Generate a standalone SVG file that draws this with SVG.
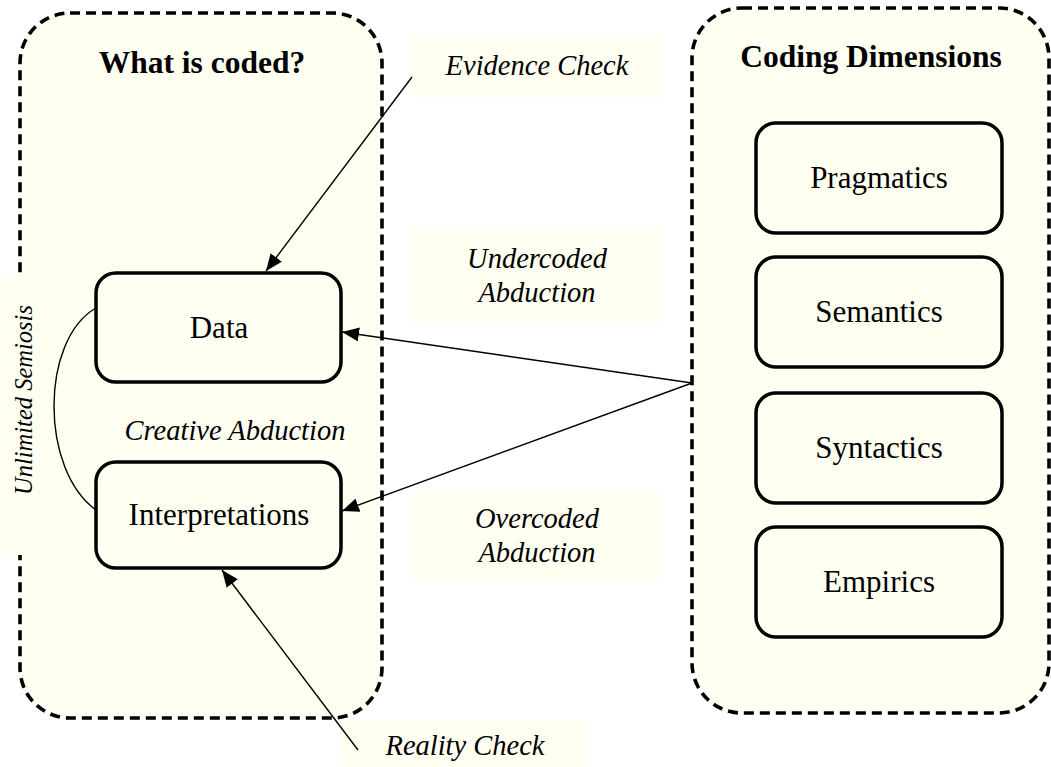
<svg xmlns="http://www.w3.org/2000/svg" width="1051" height="767" viewBox="0 0 1051 767">
<defs>
<style>
.cont{fill:#FFFFF2;stroke:#000;stroke-width:3.6;stroke-dasharray:10 6}
.node{fill:#FFFFF2;stroke:#000;stroke-width:3.5}
.lbl{fill:#FFFFF2;stroke:none}
.t{font-family:"Liberation Serif","Times New Roman",serif;font-size:31px;fill:#000;text-anchor:middle}
.b{font-weight:bold;font-size:31.5px}
.i{font-style:italic;font-size:28.5px}
.s{font-size:24.5px}
.c{fill:none;stroke:#000;stroke-width:1.4}
</style>
<marker id="ah" markerUnits="userSpaceOnUse" markerWidth="18" markerHeight="14" refX="17" refY="7" orient="auto">
<path d="M0,0 L17,7 L0,14 z" fill="#000"/>
</marker>
</defs>
<rect width="1051" height="767" fill="#fff"/>
<g id="container-what-is-coded">
<rect class="cont" x="20" y="13" width="362" height="705" rx="50"/>
<text class="t b" x="202" y="73">What is coded?</text>
</g>
<g id="container-coding-dimensions">
<rect class="cont" x="692" y="8" width="357" height="705" rx="50"/>
<text class="t b" x="871" y="67">Coding Dimensions</text>
</g>
<g id="label-evidence-check">
<rect class="lbl" x="412" y="37" width="249" height="60"/>
<text class="t i" x="537" y="75">Evidence Check</text>
</g>
<g id="label-undercoded">
<rect class="lbl" x="412" y="230" width="249" height="92"/>
<text class="t i" x="537" y="268">Undercoded</text>
<text class="t i" x="537" y="302">Abduction</text>
</g>
<g id="label-overcoded">
<rect class="lbl" x="412" y="490" width="249" height="92"/>
<text class="t i" x="537" y="528">Overcoded</text>
<text class="t i" x="537" y="562">Abduction</text>
</g>
<g id="label-reality-check">
<rect class="lbl" x="340" y="720" width="248" height="47"/>
<text class="t i" x="465" y="755">Reality Check</text>
</g>
<g id="label-unlimited-semiosis">
<rect class="lbl" x="0" y="278" width="42" height="277"/>
<text class="t i s" transform="translate(32,400) rotate(-90)">Unlimited Semiosis</text>
</g>
<g id="label-creative-abduction">
<text class="t i" x="235" y="440">Creative Abduction</text>
</g>
<g id="node-data">
<rect class="node" x="96" y="273" width="245" height="109" rx="20"/>
<text class="t" x="219" y="338">Data</text>
</g>
<g id="node-interpretations">
<rect class="node" x="96" y="462" width="245" height="106" rx="20"/>
<text class="t" x="219" y="525">Interpretations</text>
</g>
<g id="node-pragmatics">
<rect class="node" x="756" y="123" width="246" height="110" rx="20"/>
<text class="t" x="879" y="188">Pragmatics</text>
</g>
<g id="node-semantics">
<rect class="node" x="756" y="257" width="246" height="110" rx="20"/>
<text class="t" x="879" y="322">Semantics</text>
</g>
<g id="node-syntactics">
<rect class="node" x="756" y="393" width="246" height="110" rx="20"/>
<text class="t" x="879" y="458">Syntactics</text>
</g>
<g id="node-empirics">
<rect class="node" x="756" y="527" width="246" height="110" rx="20"/>
<text class="t" x="879" y="592">Empirics</text>
</g>
<g id="connectors">
<line class="c" x1="412" y1="77" x2="266" y2="271" marker-end="url(#ah)"/>
<line class="c" x1="692" y1="383" x2="342" y2="332" marker-end="url(#ah)"/>
<line class="c" x1="692" y1="383" x2="342" y2="511" marker-end="url(#ah)"/>
<line class="c" x1="358" y1="750" x2="222" y2="570" marker-end="url(#ah)"/>
<path class="c" d="M96,308 C40,340 40,470 96,510"/>
</g>
</svg>
